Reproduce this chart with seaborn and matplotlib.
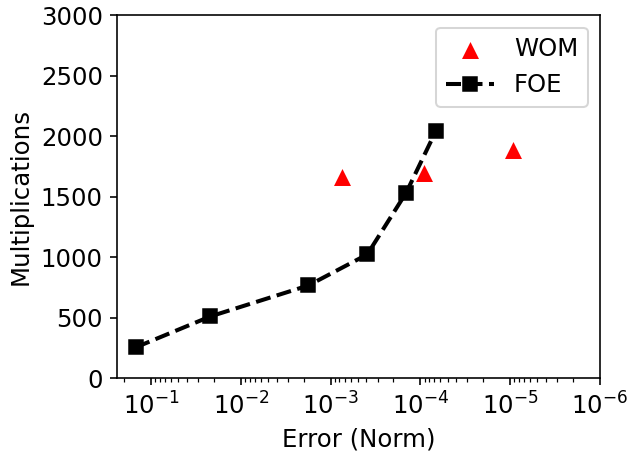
import matplotlib
matplotlib.use("Agg")
import matplotlib.pyplot as plt
import seaborn as sns
import pandas as pd

wom_err = [7.4e-4, 9.2e-5, 9.4e-6]
wom_mult = [1661, 1694, 1887]
foe_err = [0.149, 0.0219, 1.77e-3, 3.92e-4, 1.44e-4, 6.7e-5]
foe_mult = [256, 512, 768, 1024, 1536, 2048]

wom = pd.DataFrame({"err": wom_err, "mult": wom_mult})
foe = pd.DataFrame({"err": foe_err, "mult": foe_mult})

DPI = 146
plt.rcParams.update({"font.size": 12, "font.family": ["DejaVu Sans"]})
fig, ax = plt.subplots(figsize=(629 / DPI, 451 / DPI), dpi=DPI)
fig.subplots_adjust(left=0.186, right=0.954, top=0.966, bottom=0.161)

sns.scatterplot(data=wom, x="err", y="mult", ax=ax, marker="^", color="red",
                s=70, linewidth=0, label="WOM", zorder=3)
sns.lineplot(data=foe, x="err", y="mult", ax=ax, marker="s", color="black",
             linestyle="--", linewidth=2, markersize=7, markeredgecolor="black",
             sort=False, label="FOE", zorder=2)

ax.set_xscale("log")
ax.set_xlim(0.24, 1e-6)
ax.set_ylim(0, 3000)
ax.set_xlabel("Error (Norm)")
ax.set_ylabel("Multiplications")
ax.legend(loc="upper right")
fig.savefig("out.png", dpi=DPI)
